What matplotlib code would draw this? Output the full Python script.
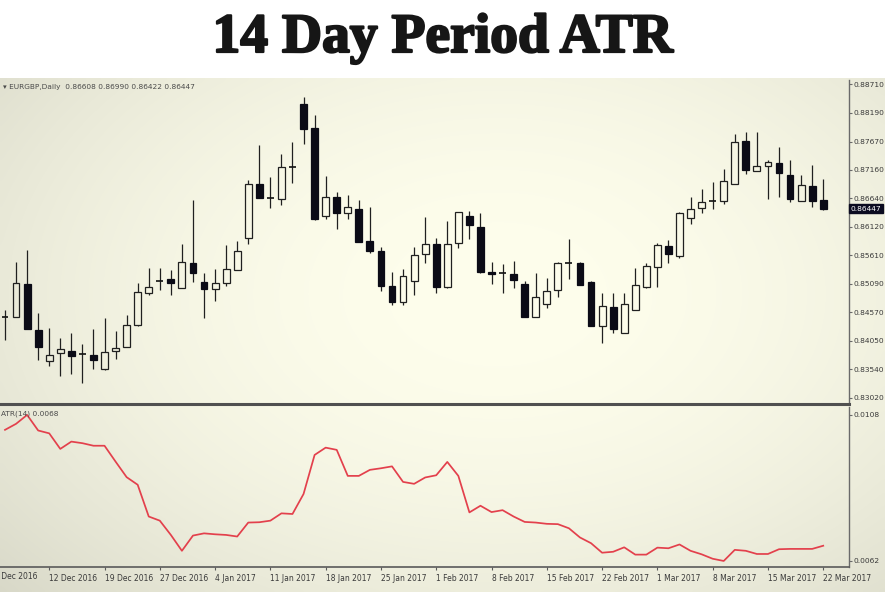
import matplotlib
matplotlib.use("Agg")
import matplotlib.pyplot as plt
import matplotlib.patheffects as pe
import matplotlib.transforms as mtransforms
import numpy as np
import pandas as pd

# --- Data ---
SYMBOL = "EURGBP,Daily"

opens = [0.84493, 0.84493, 0.85080, 0.84251, 0.83694, 0.83827, 0.83870, 0.83809, 0.83797, 0.83537,
         0.83870, 0.83948, 0.84342, 0.84917, 0.85147, 0.85177, 0.85020, 0.85473, 0.85128, 0.84989,
         0.85098, 0.85340, 0.85927, 0.86896, 0.86641, 0.86629, 0.87216, 0.88348, 0.87912, 0.86321,
         0.86660, 0.86381, 0.86448, 0.85867, 0.85691, 0.85056, 0.84753, 0.85147, 0.85625, 0.85806,
         0.85026, 0.85824, 0.86327, 0.86127, 0.85298, 0.85280, 0.85262, 0.85086, 0.84493, 0.84717,
         0.84977, 0.85461, 0.85461, 0.85116, 0.84324, 0.84675, 0.84202, 0.84614, 0.85026, 0.85401,
         0.85776, 0.85594, 0.86290, 0.86460, 0.86599, 0.86593, 0.86902, 0.87688, 0.87138, 0.87228,
         0.87277, 0.87065, 0.86593, 0.86865, 0.86608]

highs = [0.84614, 0.85492, 0.85703, 0.84566, 0.84281, 0.84100, 0.84190, 0.83997, 0.84263, 0.84475,
         0.84239, 0.84523, 0.85098, 0.85371, 0.85371, 0.85340, 0.85812, 0.86611, 0.85292, 0.85358,
         0.85794, 0.85873, 0.86974, 0.87610, 0.87035, 0.87446, 0.87670, 0.88487, 0.88154, 0.87047,
         0.86762, 0.86702, 0.86611, 0.86490, 0.85764, 0.85310, 0.85358, 0.85764, 0.86308, 0.85915,
         0.86230, 0.86400, 0.86418, 0.86369, 0.85492, 0.85449, 0.85504, 0.85147, 0.85292, 0.85189,
         0.85479, 0.85897, 0.85492, 0.85130, 0.84917, 0.84917, 0.84917, 0.85383, 0.85461, 0.85837,
         0.85885, 0.86399, 0.86672, 0.86811, 0.86932, 0.87174, 0.87809, 0.87840, 0.87852, 0.87337,
         0.87580, 0.87337, 0.87065, 0.87247, 0.86990]

lows = [0.84069, 0.84480, 0.84263, 0.83706, 0.83597, 0.83416, 0.83452, 0.83295, 0.83537, 0.83530,
        0.83718, 0.83940, 0.84330, 0.84886, 0.84977, 0.84886, 0.85010, 0.85128, 0.84475, 0.84783,
        0.85050, 0.85330, 0.85812, 0.86650, 0.86460, 0.86520, 0.86914, 0.87628, 0.86250, 0.86260,
        0.86079, 0.86260, 0.85850, 0.85643, 0.84959, 0.84705, 0.84705, 0.84886, 0.85461, 0.84929,
        0.85020, 0.85734, 0.85903, 0.85290, 0.85080, 0.84929, 0.85007, 0.84485, 0.84485, 0.84644,
        0.84856, 0.85171, 0.85060, 0.84315, 0.84009, 0.84202, 0.84195, 0.84605, 0.85020, 0.85038,
        0.85461, 0.85564, 0.86169, 0.86369, 0.86448, 0.86532, 0.86895, 0.87083, 0.87130, 0.86623,
        0.86672, 0.86581, 0.86585, 0.86490, 0.86422]

closes = [0.84493, 0.85110, 0.84263, 0.83948, 0.83797, 0.83900, 0.83785, 0.83809, 0.83706, 0.83845,
          0.83930, 0.84342, 0.84947, 0.85038, 0.85140, 0.85098, 0.85479, 0.85280, 0.84995, 0.85098,
          0.85352, 0.85691, 0.86896, 0.86654, 0.86641, 0.87216, 0.87216, 0.87900, 0.86260, 0.86660,
          0.86381, 0.86490, 0.85855, 0.85685, 0.85056, 0.84765, 0.85231, 0.85613, 0.85806, 0.85038,
          0.85806, 0.86387, 0.86157, 0.85298, 0.85262, 0.85280, 0.85159, 0.84493, 0.84844, 0.84959,
          0.85461, 0.85461, 0.85068, 0.84324, 0.84687, 0.84263, 0.84717, 0.85068, 0.85413, 0.85794,
          0.85625, 0.86369, 0.86448, 0.86569, 0.86599, 0.86962, 0.87670, 0.87156, 0.87228, 0.87307,
          0.87095, 0.86623, 0.86884, 0.86593, 0.86447]

atr = [0.01033, 0.01052, 0.01080, 0.01031, 0.01022, 0.00973, 0.00996, 0.00991, 0.00983, 0.00983,
       0.00933, 0.00884, 0.00860, 0.00760, 0.00747, 0.00702, 0.00652, 0.00700, 0.00707, 0.00704,
       0.00702, 0.00697, 0.00741, 0.00742, 0.00747, 0.00770, 0.00768, 0.00831, 0.00954, 0.00977,
       0.00970, 0.00888, 0.00888, 0.00907, 0.00912, 0.00918, 0.00869, 0.00863, 0.00883, 0.00890,
       0.00932, 0.00888, 0.00773, 0.00794, 0.00774, 0.00780, 0.00760, 0.00743, 0.00741, 0.00737,
       0.00736, 0.00723, 0.00694, 0.00676, 0.00646, 0.00649, 0.00663, 0.00640, 0.00640, 0.00662,
       0.00660, 0.00672, 0.00652, 0.00641, 0.00627, 0.00620, 0.00655, 0.00652, 0.00642, 0.00642,
       0.00657, 0.00658, 0.00658, 0.00658, 0.00668]

price_ticks = [0.88710, 0.88190, 0.87670, 0.87160, 0.86640, 0.86120,
               0.85610, 0.85090, 0.84570, 0.84050, 0.83540, 0.83020]
atr_ticks = [0.0108, 0.0062]
ATR_LABEL = "ATR(14) 0.0068"

# trading days (no 26 Dec / 2 Jan bars)
holidays = pd.to_datetime(["2016-12-26", "2017-01-02"])
days = pd.bdate_range("2016-12-06", "2017-03-22")
days = days[~days.isin(holidays)]
first_label_day = pd.Timestamp("2016-12-05")

# --- Figure ---
W, H = 885, 592
fig = plt.figure(figsize=(W / 100, H / 100), dpi=100)
fig.patch.set_facecolor("white")

# soft vignette behind the terminal window
bg = fig.add_axes([0, 0, 1, (H - 78) / H], zorder=-5)
gy, gx = np.mgrid[0:120, 0:200]
r = np.sqrt(((gx - 112) / 125.0) ** 2 + ((gy - 50) / 85.0) ** 2)
t = np.clip(r, 0, 1.25) ** 2 / 1.5625
centre = np.array([254, 254, 236]) / 255
edge = np.array([214, 214, 198]) / 255
img = centre[None, None, :] * (1 - t[..., None]) + edge[None, None, :] * t[..., None]
bg.imshow(img, aspect="auto", interpolation="bicubic")
bg.axis("off")

fig.text(0.5, 1 - 38 / H, "14 Day Period ATR", ha="center", va="center",
         fontsize=40, fontweight="bold", family="Liberation Serif", color="#161616",
         path_effects=[pe.withStroke(linewidth=1.6, foreground="#161616")])

x = np.arange(len(closes))
xl = (-0.452, 76.33)
axw = 849 / W
ax = fig.add_axes([0, (H - 404) / H, axw, (404 - 80) / H])
ax2 = fig.add_axes([0, (H - 567) / H, axw, (567 - 407) / H], sharex=ax)
for a in (ax, ax2):
    a.set_facecolor("none")
    a.set_xlim(*xl)
    for s in ("top", "left"):
        a.spines[s].set_visible(False)
    a.spines["right"].set_color("#6a6a6a")
    a.spines["right"].set_linewidth(1.0)
    a.yaxis.tick_right()
    a.tick_params(axis="y", direction="out", length=2, width=0.8, color="#6a6a6a",
                  labelsize=5.4, labelcolor="#3a3a3a", pad=1.2)

ax.spines["bottom"].set_color("#505050")
ax.spines["bottom"].set_linewidth(2.2)
ax2.spines["bottom"].set_color("#5a5a5a")
ax2.spines["bottom"].set_linewidth(1.2)

# --- Candles ---
o = np.array(opens); h = np.array(highs); l = np.array(lows); c = np.array(closes)
top = np.maximum(o, c); bot = np.minimum(o, c)
bw = 0.62
wick_col = "#202020"
ax.vlines(x, top, h, color=wick_col, lw=0.9, zorder=2)
ax.vlines(x, l, bot, color=wick_col, lw=0.9, zorder=2)
for i in range(len(x)):
    if abs(c[i] - o[i]) < 0.00012:
        ax.hlines(c[i], x[i] - bw / 2, x[i] + bw / 2, color="#101010", lw=1.2, zorder=3)
    elif c[i] > o[i]:
        ax.add_patch(plt.Rectangle((x[i] - bw / 2, bot[i]), bw, top[i] - bot[i],
                                   facecolor="none", edgecolor="#202020", lw=0.9, zorder=3))
    else:
        ax.add_patch(plt.Rectangle((x[i] - bw / 2, bot[i]), bw, top[i] - bot[i],
                                   facecolor="#0b0b16", edgecolor="#0b0b16", lw=0.9, zorder=3))

ax.set_ylim(0.82906, 0.88788)
ax.set_yticks(price_ticks)
ax.set_yticklabels([f"{v:.5f}" for v in price_ticks])
ax.tick_params(axis="x", bottom=False, labelbottom=False)

ax.text(0.004, 1 - 6.5 / 324, f"\u25be {SYMBOL}  {opens[-1]:.5f} {highs[-1]:.5f} {lows[-1]:.5f} {closes[-1]:.5f}",
        transform=ax.transAxes, ha="left", va="center", fontsize=5.3, color="#4a4a4a")

# current price marker on the price scale
ax.annotate(f"{closes[-1]:.5f}", xy=(1, closes[-1]), xycoords=("axes fraction", "data"),
            xytext=(1.0, 0), textcoords="offset points", ha="left", va="center",
            fontsize=5.4, color="white", annotation_clip=False,
            bbox=dict(boxstyle="square,pad=0.2", fc="#0b0b20", ec="#0b0b20"))

# --- ATR subwindow ---
ax2.plot(x, atr, color="#e3404c", lw=1.25, solid_joinstyle="round")
ax2.set_ylim(0.00601, 0.01105)
ax2.set_yticks(atr_ticks)
ax2.set_yticklabels([f"{v:.4f}" for v in atr_ticks])
ax2.text(0.001, 1 - 7 / 160, ATR_LABEL, transform=ax2.transAxes, ha="left", va="center",
         fontsize=5.3, color="#4a4a4a")

tick_idx = list(range(4, len(x), 5))
ax2.set_xticks(tick_idx)
ax2.set_xticklabels([days[i].strftime("%-d %b %Y") for i in tick_idx], ha="left")
ax2.tick_params(axis="x", direction="out", length=2.5, width=0.8, color="#5a5a5a",
                labelsize=5.5, labelcolor="#3a3a3a", pad=2.5)
# label for the bar just off the left edge
trans = mtransforms.blended_transform_factory(ax2.transData, ax2.transAxes)
ax2.text(-1, -4.8 / 160, first_label_day.strftime("%-d %b %Y"), transform=trans,
         ha="left", va="top", fontsize=5.5, color="#3a3a3a", clip_on=False)

fig.savefig("out.png", dpi=100)
